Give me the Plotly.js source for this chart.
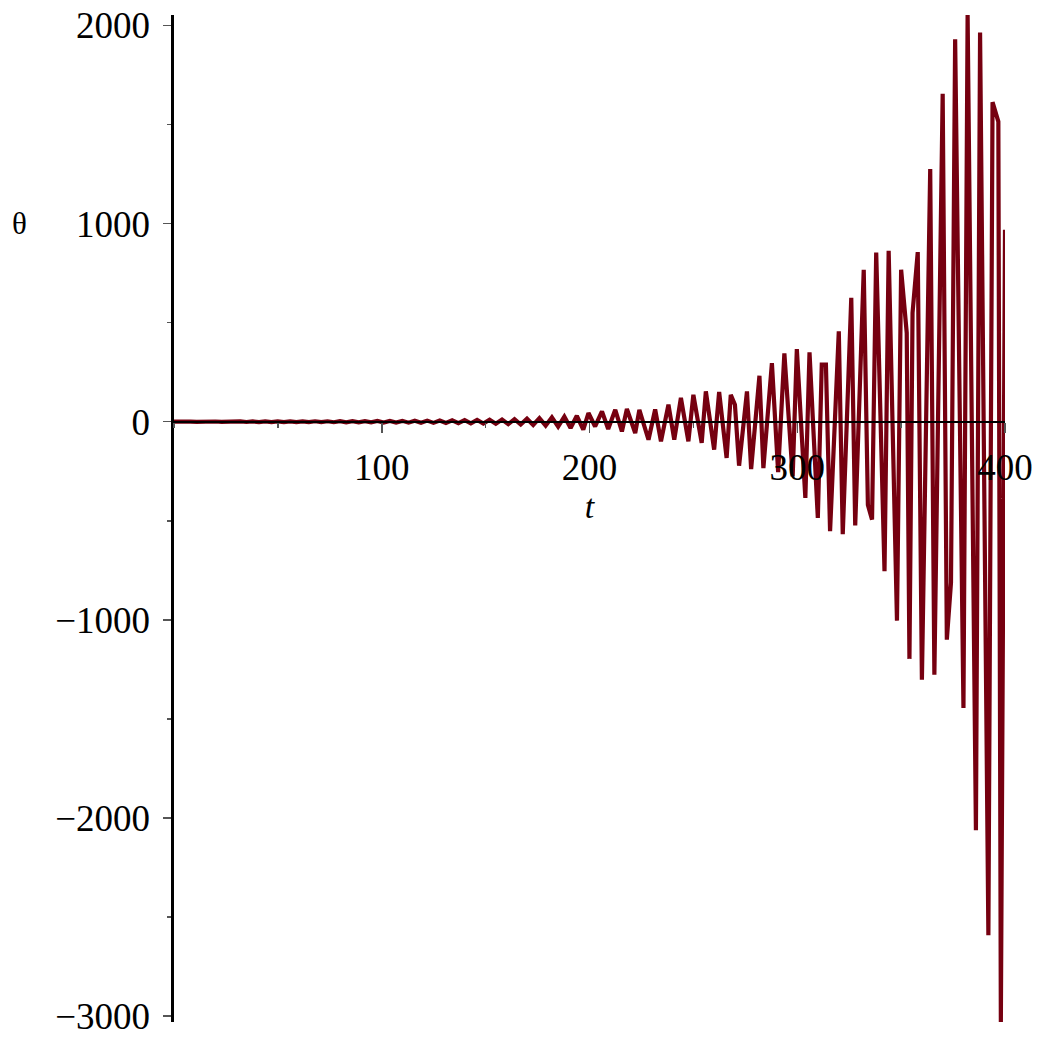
<!DOCTYPE html>
<html><head><meta charset="utf-8">
<script src="https://cdn.plot.ly/plotly-3.0.1.min.js"></script>
<style>html,body{margin:0;padding:0;background:#fff}#chart{width:1039px;height:1040px}</style>
</head><body><div id="chart"></div>
<script>
// time values (t) of the drawn vertices
const tValues = [
  0, 1.9, 4.9, 7.9, 10.9, 13.9, 16.9, 19.9, 22.9, 25.9, 28.9, 31.9, 34.9, 37.9, 40.9,
  43.9, 46.9, 49.9, 52.9, 55.9, 58.9, 61.9, 64.9, 67.9, 70.9, 73.9, 76.9, 79.9, 82.9,
  85.9, 88.9, 91.9, 94.9, 97.9, 100.9, 103.9, 106.9, 109.9, 112.9, 115.9, 118.9, 121.9,
  124.9, 127.9, 130.9, 133.9, 136.9, 139.9, 142.9, 145.9, 148.9, 151.9, 154.9, 157.9,
  160.9, 163.9, 166.9, 169.9, 172.9, 175.9, 178.9, 181.9, 184.9, 187.9, 190.9, 193.9,
  197, 199.5, 202.7, 206, 209, 212.4, 215.6, 218, 222, 224, 228.4, 231.6, 234.4, 238,
  240.8, 244, 247.6, 250, 254, 256, 260, 262.4, 266, 268, 270, 272, 275.8, 277.8,
  281.8, 283.7, 287.8, 290.8, 293.8, 297.8, 299.8, 303.9, 305.9, 309.9, 311.8, 313.8,
  315.8, 320, 321.9, 326, 327.9, 332, 334, 336, 338, 342, 344, 348, 350, 352.7, 354,
  355.5, 358, 360, 364, 366, 370, 372, 374, 376, 380, 382, 386, 388, 392, 394, 396.8,
  398, 400
];
// theta values
const thetaValues = [
  0, 0.8, -0.8, 0.9, -0.9, 1.0, -1.0, 1.1, -1.1, 1.2, -1.2, 1.3, -1.3, 1.4, -1.5,
  1.5, -1.6, 1.7, -1.8, 1.8, -1.9, 2.0, -2.1, 2.2, -2.3, 2.4, -2.5, 2.7, -2.8,
  2.9, -3.1, 3.2, -3.4, 3.6, -3.8, 4.0, -4.2, 4.4, -4.7, 4.9, -5.2, 5.5,
  -5.8, 6.1, -6.5, 6.9, -7.3, 7.7, -8.2, 8.7, -9.3, 9.9, -10.6, 11.3,
  -12.1, 13, -14, 15, -16.5, 18, -20, 22, -25, 26, -32, 30,
  -40, 44, -24, 52, -37, 60, -49, 64, -57, 60, -91, 62, -99, 86,
  -91, 120, -99, 136, -107, 153, -141, 150, -183, 136, 86, -222, 153, -239,
  232, -234, 296, -255, 345, -276, 367, -385, 350, -486, 288, 288,
  -553, 456, -568, 625, -524, 767, -420, -494, 854, -755, 863, -1004, 767, 448, -1197,
  550, 856, -1302, 1275, -1277, 1655, -1100, -812, 1931, -1445, 2053, -2062, 1964, -2592, 1613, 1515,
  -3030, 969
];
const xTickValues = [100, 200, 300, 400];
const yTickValues = [-3000, -2000, -1000, 0, 1000, 2000];
const xRange = [0, 400];
const yRange = [-3030, 2053];

const serif = 'Liberation Serif, Times New Roman, serif';
const lineColor = 'rgb(118,0,16)';
const xAxisPos = (0 - yRange[0]) / (yRange[1] - yRange[0]);

const trace = {
  x: tValues, y: thetaValues, type: 'scatter', mode: 'lines',
  line: {color: lineColor, width: 4.2}, hoverinfo: 'skip'
};

const layout = {
  width: 1039, height: 1040,
  margin: {l: 174, r: 34, t: 15, b: 18},
  paper_bgcolor: '#ffffff', plot_bgcolor: '#ffffff',
  showlegend: false,
  xaxis: {
    range: xRange, anchor: 'free', position: xAxisPos,
    showline: true, linecolor: '#000', linewidth: 2.6,
    ticks: 'outside', ticklen: 10, tickwidth: 1.5, tickcolor: '#555',
    tickmode: 'array', tickvals: xTickValues,
    tickfont: {family: serif, size: 37, color: '#000'},
    ticklabelstandoff: 2,
    minor: {tickmode: 'linear', tick0: 0, dtick: 50, ticks: 'outside', ticklen: 5, tickwidth: 1.5, tickcolor: '#555', showgrid: false},
    showgrid: false, zeroline: false, layer: 'above traces',
    title: {text: 't', font: {family: serif, size: 34, color: '#000', style: 'italic'}, standoff: 4}
  },
  yaxis: {
    range: yRange,
    showline: true, linecolor: '#000', linewidth: 2.6,
    ticks: 'outside', ticklen: 8, tickwidth: 1.5, tickcolor: '#555',
    tickmode: 'array', tickvals: yTickValues, exponentformat: 'none',
    tickfont: {family: serif, size: 37, color: '#000'},
    ticklabelstandoff: 6,
    minor: {tickmode: 'linear', tick0: 0, dtick: 500, ticks: 'outside', ticklen: 4, tickwidth: 1.5, tickcolor: '#555', showgrid: false},
    showgrid: false, zeroline: false, layer: 'above traces'
  },
  annotations: [{
    text: 'θ', xref: 'paper', yref: 'y', x: (19 - 174) / 831, y: 1000,
    xanchor: 'center', yanchor: 'middle', showarrow: false,
    font: {family: serif, size: 31, color: '#000'}
  }]
};

Plotly.newPlot('chart', [trace], layout, {staticPlot: true, displayModeBar: false});
</script>
</body></html>
